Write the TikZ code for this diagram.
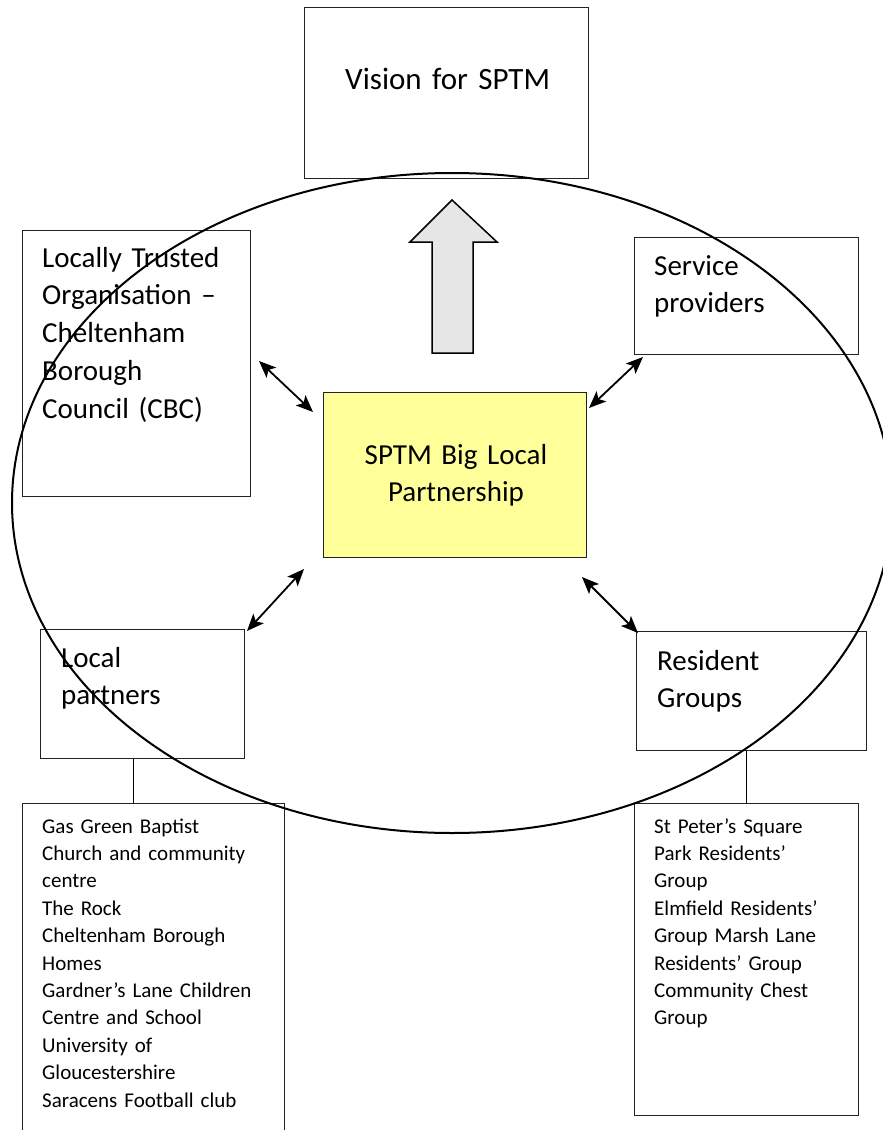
\documentclass[tikz,border=0pt]{standalone}
\usepackage{fontspec}
\setmainfont{Carlito}
\usetikzlibrary{arrows.meta,positioning,calc}
\definecolor{partyellow}{RGB}{255,255,153}
\definecolor{arrowgrey}{RGB}{230,230,230}
\definecolor{boxline}{RGB}{35,35,35}
\tikzset{
  box/.style={draw=boxline,line width=1.2pt,anchor=north west,inner sep=0pt},
  bigtext/.style={font=\fontsize{29}{37.8}\selectfont,inner sep=0pt,anchor=base west,align=left,text width=#1},
  smalltext/.style={font=\fontsize{21}{27.4}\selectfont,inner sep=0pt,anchor=base west,align=left,text width=#1},
  link/.style={<->,line width=1.8pt},
}

\begin{document}
\begin{tikzpicture}[x=1pt,y=-1pt,>={Stealth[length=17pt,width=14pt,inset=4pt]}]
  \clip (0,0) rectangle (883,1130);

  % vision at the top
  \node[box,minimum width=284pt,minimum height=171pt] (vision) at (304,7) {};
  \node[bigtext=240pt,font=\fontsize{31}{38}\selectfont] (vision-text) at (345,89) {Vision for SPTM};

  % partnership in the middle
  \node[box,fill=partyellow,minimum width=263pt,minimum height=165pt] (centre) at (323,392) {};
  \node[bigtext=240pt,align=center,anchor=base] (centre-text) at (456,464) {SPTM Big Local\\Partnership};

  % big arrow up to the vision
  \draw[line width=1.5pt,fill=arrowgrey] (452,200) -- (497,242) -- (473,242) -- (473,353)
    -- (432,353) -- (432,242) -- (410,242) -- cycle;

  % --- four partners round the middle ---
  \node[box,minimum width=228pt,minimum height=266pt] (lto) at (22,230) {};
  \node[bigtext=200pt] (lto-text) at (42,267)
    {Locally Trusted\\Organisation –\\Cheltenham\\Borough\\Council (CBC)};

  \node[box,minimum width=224pt,minimum height=117pt] (service) at (634,237) {};
  \node[bigtext=200pt] (service-text) at (654,275) {Service\\providers};

  \node[box,minimum width=204pt,minimum height=129pt] (partners) at (40,629) {};
  \node[bigtext=180pt] (partners-text) at (61,667) {Local\\partners};

  \node[box,minimum width=230pt,minimum height=119pt] (residents) at (636,631) {};
  \node[bigtext=200pt] (residents-text) at (657,670) {Resident\\Groups};

  % two-way links
  \coordinate (lto-a) at (259,361);       \coordinate (lto-b) at (313,412);
  \coordinate (service-a) at (643,357);   \coordinate (service-b) at (589,408);
  \coordinate (partners-a) at (247,631);  \coordinate (partners-b) at (304,569);
  \coordinate (residents-a) at (638,633); \coordinate (residents-b) at (582,577);
  \draw[link] (lto-a) -- (lto-b);
  \draw[link] (service-a) -- (service-b);
  \draw[link] (partners-a) -- (partners-b);
  \draw[link] (residents-a) -- (residents-b);

  % --- lists underneath ---
  \node[box,minimum width=262pt,minimum height=360pt] (partlist) at (22,803) {};
  \node[smalltext=235pt] (partlist-text) at (42,833)
    {Gas Green Baptist\\Church and community\\centre\\The Rock\\Cheltenham Borough\\Homes\\%
     Gardner’s Lane Children\\Centre and School\\University of\\Gloucestershire\\Saracens Football club};
  \draw[line width=1pt] ([xshift=-20pt]partlist.north) -- ([xshift=-20pt]partlist.north |- partners.south);

  \node[box,minimum width=224pt,minimum height=312pt] (reslist) at (634,803) {};
  \node[smalltext=200pt] (reslist-text) at (654,833)
    {St Peter’s Square\\Park Residents’\\Group\\Elmfield Residents’\\Group Marsh Lane\\%
     Residents’ Group\\Community Chest\\Group};
  \draw[line width=1pt] (reslist.north) -- (reslist.north |- residents.south);

  % big ring over everything
  \draw[line width=2pt] (452,503) ellipse [x radius=440, y radius=330];
\end{tikzpicture}
\end{document}
